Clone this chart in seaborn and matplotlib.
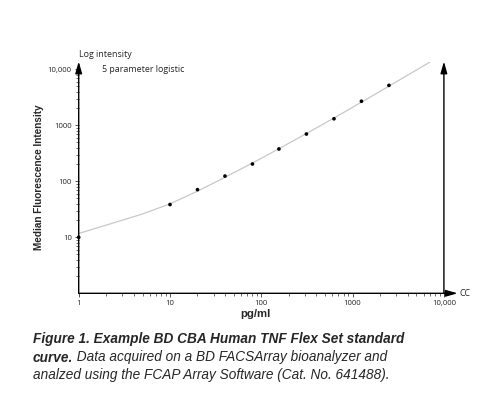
import numpy as np
import pandas as pd
import matplotlib
matplotlib.use("Agg")
import matplotlib.pyplot as plt
import seaborn as sns
from matplotlib.ticker import FixedLocator, LogLocator, NullFormatter

# Standard points (pg/ml vs median fluorescence intensity)
std_conc = [1, 10, 20, 40, 80, 156, 312, 625, 1250, 2500]
std_mfi = [10, 38.5, 71, 124, 204, 378, 700, 1310, 2690, 5170]

# 5 parameter logistic fit curve
curve_conc = [1, 2, 5, 10, 20, 40, 80, 160, 320, 640, 1280, 2560, 5000, 7080]
curve_mfi = [11.7, 16.5, 26.1, 39.6, 66.7, 118, 212, 391, 730, 1380, 2650, 5120,
             9730, 13600]

x_ticks = [1, 10, 100, 1000, 10000]
x_labels = ["1", "10", "100", "1000", "10,000"]
y_ticks = [10, 100, 1000, 10000]
y_labels = ["10", "100", "1000", "10,000"]

std_df = pd.DataFrame({"conc": std_conc, "mfi": std_mfi})
curve_df = pd.DataFrame({"conc": curve_conc, "mfi": curve_mfi})

sns.set_style("white")
tick_font = "Open Sans"

W, H = 493, 397
fig = plt.figure(figsize=(W / 100, H / 100), dpi=100)
xmax = 10 ** 4.15
ymax = 10 ** 4.14
ax = fig.add_axes([78.7 / W, 1 - 293.3 / H, (457.6 - 78.7) / W, (293.3 - 61.5) / H])
ax.set_xscale("log")
ax.set_yscale("log")
ax.set_xlim(1, xmax)
ax.set_ylim(1, ymax)

sns.lineplot(data=curve_df, x="conc", y="mfi", ax=ax, color="#c8c8c8", lw=0.9)
sns.scatterplot(data=std_df, x="conc", y="mfi", ax=ax, color="black", s=7,
                edgecolor="none", zorder=5, clip_on=False)

for s in ax.spines.values():
    s.set_visible(False)

# axes drawn as arrows
arrow = dict(arrowstyle="-|>,head_length=0.7,head_width=0.2", color="black", lw=1.0,
             shrinkA=0, shrinkB=0)
ax.annotate("", xy=(1, ymax), xytext=(1, 1), arrowprops=arrow, annotation_clip=False)
ax.annotate("", xy=(xmax, 1), xytext=(1, 1), arrowprops=arrow, annotation_clip=False)
ax.annotate("", xy=(10000, ymax), xytext=(10000, 1), arrowprops=arrow, annotation_clip=False)

ax.xaxis.set_major_locator(FixedLocator(x_ticks))
ax.set_xticklabels(x_labels)
ax.xaxis.set_minor_locator(LogLocator(base=10, subs=np.arange(2, 10), numticks=20))
ax.xaxis.set_minor_formatter(NullFormatter())
ax.yaxis.set_major_locator(FixedLocator(y_ticks))
ax.set_yticklabels(y_labels)
ax.yaxis.set_minor_locator(LogLocator(base=10, subs=np.arange(2, 10), numticks=20))
ax.yaxis.set_minor_formatter(NullFormatter())
ax.tick_params(which="major", direction="out", length=3, width=0.7, color="#555555",
               labelsize=5.6, pad=2, bottom=True, left=True)
ax.tick_params(which="minor", direction="out", length=2, width=0.6, color="#555555",
               bottom=True, left=True)
for lab in ax.get_xticklabels() + ax.get_yticklabels():
    lab.set_fontfamily(tick_font)
ax.set_xlabel("")
ax.set_ylabel("")

# labels on the chart
fig.text(78.7 / W, 1 - 54.3 / H, "Log intensity", fontsize=6.4, family=tick_font,
         va="center", ha="left")
fig.text(101.7 / W, 1 - 69.3 / H, "5 parameter logistic", fontsize=6.4, family=tick_font,
         va="center", ha="left")
fig.text(459 / W, 1 - 293.3 / H, "CC", fontsize=6.4, family=tick_font,
         va="center", ha="left")
fig.text(39.3 / W, 1 - 177.5 / H, "Median Fluorescence Intensity", fontsize=7.2,
         family="Liberation Sans", weight="bold", rotation=90, va="center", ha="center")
fig.text(255.7 / W, 1 - 314 / H, "pg/ml", fontsize=8.2, family="Liberation Sans",
         weight="bold", va="center", ha="center")

# caption
cap_x = 32.7 / W
cap_font = dict(family="Liberation Sans", fontsize=9.8, style="italic", va="baseline", ha="left")
fig.text(cap_x, 1 - 343.5 / H, "Figure 1. Example BD CBA Human TNF Flex Set standard",
         weight="bold", **cap_font)
t = fig.text(cap_x, 1 - 361.5 / H, "curve.", weight="bold", **cap_font)
renderer = fig.canvas.get_renderer()
bb = t.get_window_extent(renderer=renderer)
fig.text(bb.x1 / (W), 1 - 361.5 / H, " Data acquired on a BD FACSArray bioanalyzer and",
         **cap_font)
fig.text(cap_x, 1 - 379.5 / H, "analzed using the FCAP Array Software (Cat. No. 641488).",
         **cap_font)

fig.savefig("out.png", dpi=100)
